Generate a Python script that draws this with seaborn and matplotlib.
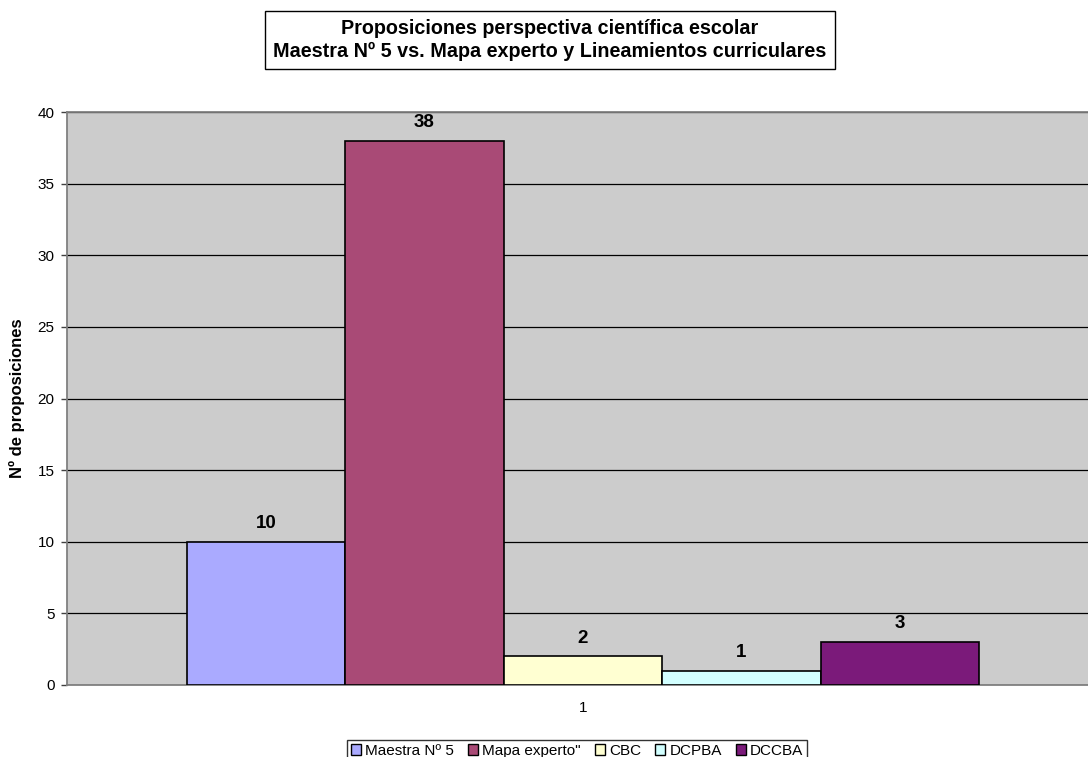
import matplotlib
matplotlib.use("Agg")
import matplotlib.pyplot as plt
import seaborn as sns
import pandas as pd
from matplotlib.patches import Patch

categories = ["1"]
series = ["Maestra Nº 5", "Mapa experto\"", "CBC", "DCPBA", "DCCBA"]
values = [10, 38, 2, 1, 3]
colors = ["#AAAAFF", "#A94A76", "#FFFFD2", "#D2FFFF", "#7B1A7A"]
yticks = [0, 5, 10, 15, 20, 25, 30, 35, 40]

df = pd.DataFrame({"cat": categories * len(series), "serie": series, "valor": values})

sns.set_style("white")
plt.rcParams["font.family"] = ["Liberation Sans", "DejaVu Sans"]
plt.rcParams["text.color"] = "black"
plt.rcParams["axes.labelcolor"] = "black"
plt.rcParams["xtick.color"] = "black"
plt.rcParams["ytick.color"] = "black"

fig = plt.figure(figsize=(10.88, 7.57), dpi=100)
ax = fig.add_axes([67 / 1088, 1 - 685 / 757, (1099 - 67) / 1088, (685 - 112) / 757])
ax.set_facecolor("#CCCCCC")

sns.barplot(data=df, x="cat", y="valor", hue="serie", hue_order=series,
            palette=colors, width=0.768, dodge=True, edgecolor="black",
            linewidth=1.2, ax=ax, legend=False, saturation=1, zorder=3)

for cont in ax.containers:
    ax.bar_label(cont, padding=7, fontsize=13.5, fontweight="bold", color="black")

ax.set_xlim(-0.5, 0.5)
ax.set_ylim(0, 40)
ax.set_yticks(yticks)
ax.yaxis.grid(True, color="black", linewidth=0.9, zorder=0)
ax.set_axisbelow(True)
ax.tick_params(axis="y", which="both", left=True, length=4, width=1, color="#404040",
               labelsize=11, pad=5)
ax.tick_params(axis="x", bottom=False, labelsize=11, pad=8)
ax.spines["right"].set_visible(False)
for s in ["left", "bottom", "top"]:
    ax.spines[s].set_color("#808080")
    ax.spines[s].set_linewidth(1.3)
ax.set_xlabel("")
ax.set_ylabel("Nº de proposiciones", fontsize=12, fontweight="bold", labelpad=9)

fig.text(550 / 1088, 1 - 40 / 757,
         "Proposiciones perspectiva científica escolar\nMaestra Nº 5 vs. Mapa experto y Lineamientos curriculares",
         ha="center", va="center", fontsize=14.2, fontweight="bold", linespacing=1.25,
         bbox=dict(boxstyle="square,pad=0.42", facecolor="white", edgecolor="black", linewidth=1))

handles = [Patch(facecolor=c, edgecolor="black", linewidth=1) for c in colors]
leg = fig.legend(handles, series, loc="upper center", bbox_to_anchor=(577 / 1088, 1 - 740 / 757),
                 ncol=5, frameon=True, fontsize=11, handlelength=0.65, handleheight=0.65,
                 handletextpad=0.3, columnspacing=0.9, borderpad=0.25, borderaxespad=0,
                 fancybox=False)
leg.get_frame().set_edgecolor("black")
leg.get_frame().set_linewidth(1)

fig.savefig("out.png", dpi=100)
